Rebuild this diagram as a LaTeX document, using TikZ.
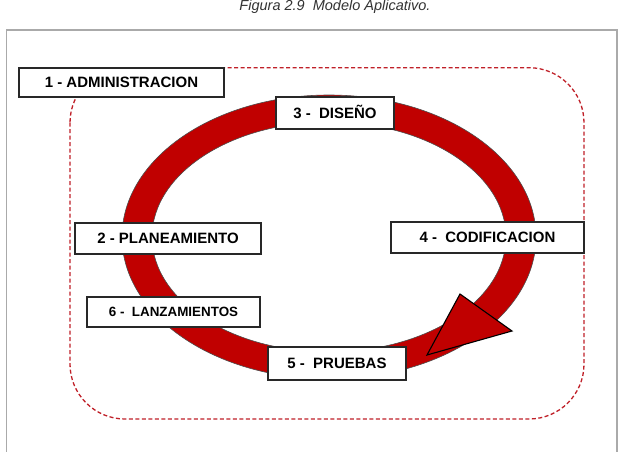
\documentclass[tikz,border=0pt]{standalone}
\usepackage{fontspec}
\setmainfont{Liberation Sans}
\definecolor{ringred}{RGB}{192,0,0}
\definecolor{dashred}{RGB}{192,32,40}
\definecolor{framegray}{RGB}{170,170,170}
\definecolor{boxline}{RGB}{40,40,40}
\begin{document}
\begin{tikzpicture}[x=1pt,y=-1pt,
  labelbox/.style={draw=boxline, line width=1.2pt, fill=white, inner sep=0pt,
    font=\fontsize{15}{18}\selectfont\bfseries, text height=10.7pt, text depth=0pt,
    align=center},
  ringstyle/.style={fill=ringred, draw=black!70, line width=0.6pt, even odd rule},
  dashframe/.style={draw=dashred, line width=1.3pt, dash pattern=on 4pt off 2.5pt, rounded corners=55pt}
]
\useasboundingbox (0,0) rectangle (621,452);
\fill[white] (0,0) rectangle (621,452);
% caption
\node[anchor=base, font=\fontsize{14.5}{17}\selectfont\itshape, text=black!80, inner sep=0pt] (caption) at (335,11) {Figura 2.9\ \ Modelo Aplicativo.};
% outer frame
\draw[framegray, line width=1.3pt] (6.7,452) -- (6.7,30) -- (617,30) -- (617,452);
% dashed rounded frame
\draw[dashframe] (70,67.7) rectangle (584,419);
% ring
\path[ringstyle] (329,237) ellipse [x radius=207pt, y radius=142pt]
                 (329,237) ellipse [x radius=177pt, y radius=115pt];
% arrowhead
\draw[fill=ringred, draw=black, line width=1.1pt, line join=miter] (460,294) -- (512,331) -- (427,355) -- cycle;
% boxes
\node[labelbox, minimum width=205pt, minimum height=29pt] (adm) at (121.5,82.5) {1 - ADMINISTRACION};
\node[labelbox, minimum width=118pt, minimum height=32pt] (dis) at (335,113) {3 -\ \ DISEÑO};
\node[labelbox, minimum width=186pt, minimum height=31pt] (pla) at (168,238.5) {2 - PLANEAMIENTO};
\node[labelbox, minimum width=193pt, minimum height=31pt] (cod) at (487.5,237.5) {4 -\ \ CODIFICACION};
\node[labelbox, minimum width=173pt, minimum height=30pt, font=\fontsize{13.4}{16}\selectfont\bfseries, text height=9.6pt] (lan) at (173.5,312) {6 -\ \ LANZAMIENTOS};
\node[labelbox, minimum width=138pt, minimum height=33pt] (pru) at (337,363.5) {5 -\ \ PRUEBAS};
\end{tikzpicture}
\end{document}
